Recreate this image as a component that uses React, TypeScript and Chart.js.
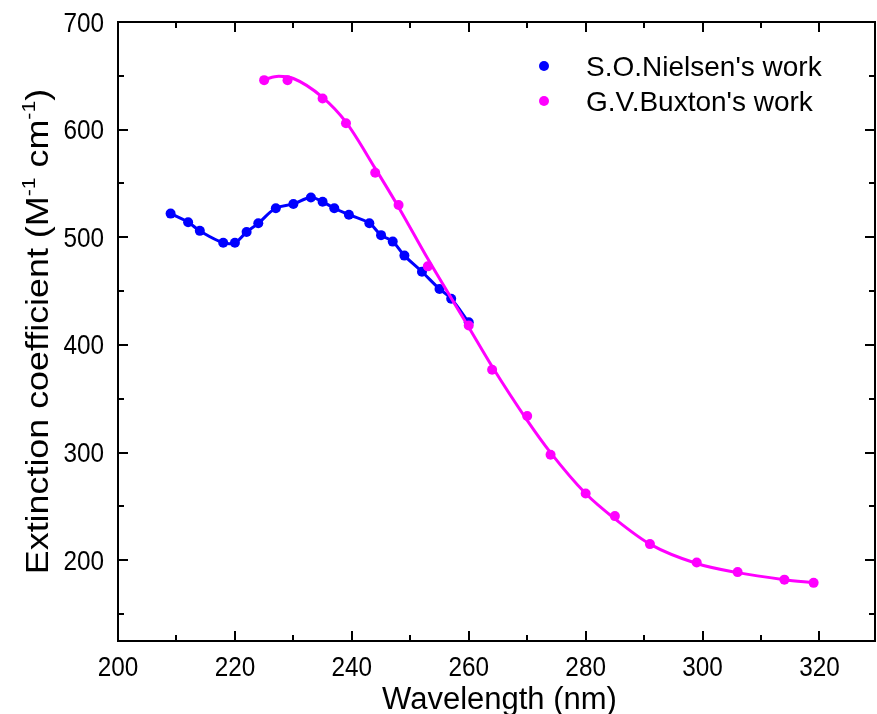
import React, { useEffect, useRef } from 'react';
import { Chart, registerables } from 'chart.js';

Chart.register(...registerables);

// ---- data ----
// measured points
const nielsenX = [209, 212, 214, 218, 220, 222, 224, 227, 230, 233, 235, 237, 239.5, 243, 245, 247, 249, 252, 255, 257, 260];
const nielsenY = [522, 514, 506, 495, 495, 505, 513, 527, 531, 537, 533, 527, 521, 513, 502, 496, 483, 468, 452, 443, 421];

const buxtonX = [225, 229, 235, 239, 244, 248, 253, 260, 264, 270, 274, 280, 285, 291, 299, 306, 314, 319];
const buxtonY = [646, 646, 629, 606, 560, 530, 473, 418, 377, 334, 298, 262, 241, 215, 198, 189, 182, 179];

// smooth fitted curve drawn through the Buxton points
const buxtonFitX = [225, 227.5, 230, 235, 239, 244, 248, 253, 260, 264, 270, 274, 280, 285, 291, 299, 306, 314, 319];
const buxtonFitY = [646.5, 649.5, 647.5, 630, 607, 564, 528, 480, 416.5, 380, 330, 300, 262, 238.5, 215, 197, 188.5, 182, 179];

const seriesLabels = ["S.O.Nielsen's work", "G.V.Buxton's work"];
const seriesColors = ['#0000FF', '#FF00FF'];

const xTicks = [200, 220, 240, 260, 280, 300, 320];
const xMinorTicks = [210, 230, 250, 270, 290, 310];
const yTicks = [200, 300, 400, 500, 600, 700];
const yMinorTicks = [150, 250, 350, 450, 550, 650];

const X_MIN = 200;
const X_MAX = 329.5;
const Y_MIN = 125;
const Y_MAX = 700;

const xTitle = 'Wavelength (nm)';
const yTitleParts = [
  { t: 'Extinction coefficient (M', sup: false },
  { t: '-1', sup: true },
  { t: ' cm', sup: false },
  { t: '-1', sup: true },
  { t: ')', sup: false },
];

const FONT = '"Liberation Sans", Arial, Helvetica, sans-serif';

const decorPlugin = {
  id: 'decor',
  afterDraw(chart: any) {
    const { ctx, chartArea: a, scales } = chart;
    const xs = scales.x;
    const ys = scales.y;
    ctx.save();
    ctx.strokeStyle = '#000';
    ctx.lineWidth = 2;
    ctx.strokeRect(a.left, a.top, a.right - a.left, a.bottom - a.top);

    const seg = (x1: number, y1: number, x2: number, y2: number) => {
      ctx.beginPath();
      ctx.moveTo(x1, y1);
      ctx.lineTo(x2, y2);
      ctx.stroke();
    };
    const xt = (vals: number[], len: number) => {
      vals.forEach((v) => {
        const p = Math.round(xs.getPixelForValue(v));
        if (p < a.left - 1 || p > a.right + 1) return;
        seg(p, a.bottom, p, a.bottom - len);
        seg(p, a.top, p, a.top + len);
      });
    };
    const yt = (vals: number[], len: number) => {
      vals.forEach((v) => {
        const p = Math.round(ys.getPixelForValue(v));
        if (p < a.top - 1 || p > a.bottom + 1) return;
        seg(a.left, p, a.left + len, p);
        seg(a.right, p, a.right - len, p);
      });
    };
    xt(xTicks, 10);
    xt(xMinorTicks, 6);
    yt(yTicks, 10);
    yt(yMinorTicks, 6);

    const text = (s: string, x: number, y: number, size: number, align: string, sx: number) => {
      ctx.save();
      ctx.translate(x, y);
      ctx.scale(sx, 1);
      ctx.font = `${size}px ${FONT}`;
      ctx.textAlign = align;
      ctx.textBaseline = 'alphabetic';
      ctx.fillStyle = '#000';
      ctx.fillText(s, 0, 0);
      ctx.restore();
    };

    // tick labels from the scales' ticks
    xs.ticks.forEach((t: any) => {
      text(String(t.value), xs.getPixelForValue(t.value), a.bottom + 35, 27, 'center', 0.9);
    });
    ys.ticks.forEach((t: any) => {
      text(String(t.value), a.left - 14, ys.getPixelForValue(t.value) + 9.5, 27, 'right', 0.9);
    });

    // legend (only the marker datasets)
    chart.data.datasets
      .filter((ds: any) => ds.inLegend)
      .forEach((ds: any, i: number) => {
        const cy = a.top + 44 + i * 35;
        const cx = a.left + 426;
        ctx.beginPath();
        ctx.fillStyle = ds.backgroundColor;
        ctx.arc(cx, cy, 5, 0, Math.PI * 2);
        ctx.fill();
        text(ds.label, cx + 42, cy + 10, 28, 'left', 1);
      });

    // x title
    text(xTitle, (a.left + a.right) / 2 + 3, 709, 31, 'center', 1);

    // y title with superscripts
    ctx.save();
    ctx.translate(38, (a.top + a.bottom) / 2);
    ctx.rotate(-Math.PI / 2);
    ctx.scale(1.12, 1);
    ctx.fillStyle = '#000';
    const normalFont = `32px ${FONT}`;
    const supFont = `19px ${FONT}`;
    let total = 0;
    yTitleParts.forEach((p) => {
      ctx.font = p.sup ? supFont : normalFont;
      total += ctx.measureText(p.t).width;
    });
    let x = -total / 2;
    ctx.textAlign = 'left';
    ctx.textBaseline = 'alphabetic';
    yTitleParts.forEach((p) => {
      ctx.font = p.sup ? supFont : normalFont;
      ctx.fillText(p.t, x, p.sup ? -3 : 10);
      x += ctx.measureText(p.t).width;
    });
    ctx.restore();

    ctx.restore();
  },
};

export default function App() {
  const ref = useRef<HTMLCanvasElement | null>(null);

  useEffect(() => {
    document.body.style.margin = '0';
    const canvas = ref.current;
    if (!canvas) return;
    const chart = new Chart(canvas, {
      type: 'line',
      data: {
        datasets: [
          {
            label: seriesLabels[0],
            inLegend: true,
            data: nielsenX.map((x, i) => ({ x, y: nielsenY[i] })),
            borderColor: seriesColors[0],
            backgroundColor: seriesColors[0],
            borderWidth: 3,
            pointRadius: 5,
            pointBorderWidth: 0,
            pointBackgroundColor: seriesColors[0],
            tension: 0.4,
            fill: false,
            order: 2,
          },
          {
            label: seriesLabels[1] + ' fit',
            inLegend: false,
            data: buxtonFitX.map((x, i) => ({ x, y: buxtonFitY[i] })),
            borderColor: seriesColors[1],
            backgroundColor: seriesColors[1],
            borderWidth: 3,
            pointRadius: 0,
            cubicInterpolationMode: 'monotone',
            fill: false,
            order: 1,
          },
          {
            label: seriesLabels[1],
            inLegend: true,
            data: buxtonX.map((x, i) => ({ x, y: buxtonY[i] })),
            borderColor: seriesColors[1],
            backgroundColor: seriesColors[1],
            showLine: false,
            pointRadius: 5,
            pointBorderWidth: 0,
            pointBackgroundColor: seriesColors[1],
            fill: false,
            order: 0,
          },
        ],
      },
      options: {
        animation: false,
        responsive: false,
        maintainAspectRatio: false,
        layout: { autoPadding: false, padding: { top: 22, right: 2, left: 0, bottom: 0 } },
        plugins: { legend: { display: false }, tooltip: { enabled: false } },
        scales: {
          x: {
            type: 'linear',
            min: X_MIN,
            max: X_MAX,
            grid: { display: false, drawTicks: false },
            border: { display: false },
            ticks: { display: false },
            afterBuildTicks: (s: any) => {
              s.ticks = xTicks.map((v) => ({ value: v }));
            },
            afterFit: (s: any) => {
              s.height = 73;
            },
          },
          y: {
            type: 'linear',
            min: Y_MIN,
            max: Y_MAX,
            grid: { display: false, drawTicks: false },
            border: { display: false },
            ticks: { display: false },
            afterBuildTicks: (s: any) => {
              s.ticks = yTicks.map((v) => ({ value: v }));
            },
            afterFit: (s: any) => {
              s.width = 118;
            },
          },
        },
      },
      plugins: [decorPlugin],
    });
    return () => chart.destroy();
  }, []);

  return (
    <div style={{ width: 877, height: 714 }}>
      <canvas ref={ref} width={877} height={714} style={{ display: 'block' }} />
    </div>
  );
}
